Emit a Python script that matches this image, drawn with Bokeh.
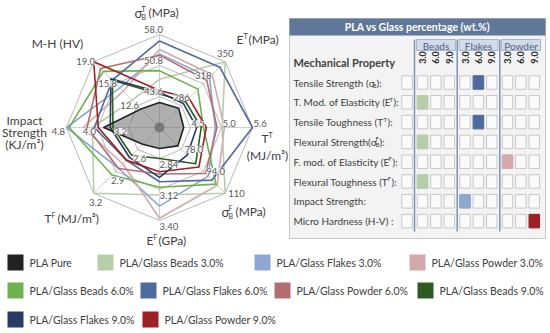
import math
from bokeh.plotting import figure
from bokeh.models import Range1d
from bokeh.core.properties import value
from bokeh.embed import file_html
from bokeh.resources import INLINE

# ---------------- data ----------------
series_names = ["PLA Pure", "PLA/Glass Beads 3.0%", "PLA/Glass Flakes 3.0%", "PLA/Glass Powder 3.0%",
                "PLA/Glass Beads 6.0%", "PLA/Glass Flakes 6.0%", "PLA/Glass Powder 6.0%",
                "PLA/Glass Beads 9.0%", "PLA/Glass Flakes 9.0%", "PLA/Glass Powder 9.0%"]
series_colors = ["#222222", "#b7cda8", "#8fa6d1", "#d4a9ab",
                 "#6db24c", "#4f6a9e", "#b36d70",
                 "#2f5b20", "#263c66", "#9c2024"]

# axis order: sigma_B^T, E^T, T^T, sigma_B^F, E^F, T^F, Impact, M-H
axis_min = [36.4, 254, 3.95, 62.0, 2.56, 2.3, 2.4, 9.4]
axis_max = [58.0, 350, 5.6, 110.0, 3.40, 3.2, 4.8, 19.0]
axis_ticks = [["43.6", "50.8", "58.0"], ["286", "318", "350"], ["4.5", "5.0", "5.6"],
              ["78.0", "94.0", "110"], ["2.84", "3.12", "3.40"], ["2.6", "2.9", "3.2"],
              ["3.2", "4.0", "4.8"], ["12.6", "15.8", "19.0"]]

pla_pure      = [42.2, 282, 4.38, 75.4, 2.75, 2.53, 3.84, 12.1]
beads_3       = [47.6, 350, 5.06, 110.0, 3.17, 3.20, 4.13, 13.4]
flakes_3      = [53.5, 327, 4.94, 97.5, 3.27, 2.86, 4.80, 15.2]
powder_3      = [54.5, 331, 5.10, 104.2, 3.38, 2.80, 4.37, 14.7]
beads_6       = [49.6, 310, 4.73, 103.3, 3.10, 2.95, 4.73, 17.6]
flakes_6      = [56.5, 342, 5.60, 100.4, 3.05, 2.75, 4.08, 16.3]
powder_6      = [53.2, 323, 4.97, 95.6, 2.98, 2.86, 4.27, 18.0]
beads_9       = [44.2, 292, 4.69, 88.4, 2.84, 2.68, 3.60, 16.3]
flakes_9      = [44.6, 289, 4.61, 82.2, 3.01, 2.71, 3.67, 16.5]
powder_9      = [45.0, 297, 4.78, 90.8, 2.96, 2.75, 3.98, 19.0]
series_values = [pla_pure, beads_3, flakes_3, powder_3, beads_6, flakes_6,
                 powder_6, beads_9, flakes_9, powder_9]

table_title = "PLA vs Glass percentage (wt.%)"
groups = ["Beads", "Flakes", "Powder"]
percents = ["3.0", "6.0", "9.0"]

FONT = "Lato"
TXT = "#404040"

p = figure(width=550, height=333, x_range=Range1d(0, 550), y_range=Range1d(333, 0),
           output_backend="svg", toolbar_location=None, min_border=0,
           x_axis_location=None, y_axis_location=None, outline_line_color=None,
           background_fill_color="white", border_fill_color="white")
p.grid.visible = False


def txt(xs, ys, ts, size=10, color=TXT, align="left", baseline="middle",
        style="normal", angle=0, bg=None):
    kw = {}
    if bg:
        kw = dict(background_fill_color=bg, background_fill_alpha=0.8)
    p.text(x=xs, y=ys, text=ts, text_font=value(FONT), text_font_size=f"{size}px",
           text_color=color, text_align=align, text_baseline=baseline,
           text_font_style=style, angle=angle, **kw)


# ---------------- radar ----------------
cx, cy, R = 159, 127, 93
angles = [math.pi / 2 - k * math.pi / 4 for k in range(8)]


def pt(k, frac):
    return cx + frac * R * math.cos(angles[k]), cy - frac * R * math.sin(angles[k])


ox = [pt(k, 1)[0] for k in range(8)]
oy = [pt(k, 1)[1] for k in range(8)]
p.segment(x0=[cx] * 8, y0=[cy] * 8, x1=ox, y1=oy, line_color="#cfcfcf", line_width=1)
for j in range(1, 4):
    xs = [pt(k, j / 3)[0] for k in range(8)] + [pt(0, j / 3)[0]]
    ys = [pt(k, j / 3)[1] for k in range(8)] + [pt(0, j / 3)[1]]
    p.line(xs, ys, line_color="#b8b8b8", line_width=1)


def series_xy(vals):
    xs, ys = [], []
    for k in range(8):
        f = (vals[k] - axis_min[k]) / (axis_max[k] - axis_min[k])
        x, y = pt(k, f)
        xs.append(x)
        ys.append(y)
    return xs + [xs[0]], ys + [ys[0]]


px, py = series_xy(pla_pure)
p.patch(px, py, fill_color="#6e6e6e", fill_alpha=0.55, line_color=None)
p.scatter([cx], [cy], size=10, fill_color="#777777", line_color=None)

for s in list(range(1, 10)) + [0]:
    xs, ys = series_xy(series_values[s])
    p.line(xs, ys, line_color=series_colors[s], line_width=1.6, line_join="round")

offs = [(-6, -5, "center"), (0, -8, "center"), (1, -4, "left"), (3, 0, "left"),
        (0, 6, "left"), (2, 9, "center"), (-8, 4, "center"), (-8, 0, "center")]
for k in range(8):
    dx, dy, al = offs[k]
    xs, ys = [], []
    for j in range(3):
        x, y = pt(k, (j + 1) / 3)
        xs.append(x + dx)
        ys.append(y + dy)
    txt(xs, ys, axis_ticks[k], size=9.5, color="#595959", align=al, bg="white")

T = 12
S = 7
txt([134], [12], ["σ"], size=13)
txt([141], [8], ["T"], size=S)
txt([141], [16], ["B"], size=S)
txt([148], [12], ["(MPa)"], size=T)
txt([57], [43], ["M-H (HV)"], size=T, align="center")
txt([236], [39], ["E"], size=T)
txt([243], [35], ["T"], size=S)
txt([248], [39], ["(MPa)"], size=T)
txt([261], [138], ["T"], size=T)
txt([268], [134], ["T"], size=S)
txt([267], [155], ["(MJ/m³)"], size=T, align="center")
txt([221], [211], ["σ"], size=13)
txt([228], [207], ["F"], size=S)
txt([228], [215], ["B"], size=S)
txt([235], [211], ["(MPa)"], size=T)
txt([146], [240], ["E"], size=T)
txt([153], [236], ["F"], size=S)
txt([158], [240], ["(GPa)"], size=T)
txt([44], [218], ["T"], size=T)
txt([51], [214], ["F"], size=S)
txt([57], [218], ["(MJ/m³)"], size=T)
txt([24, 24, 24], [120, 132, 144], ["Impact", "Strength", "(KJ/m²)"], size=T, align="center")

# ---------------- table ----------------
p.quad(left=[289], right=[545], top=[18], bottom=[238], fill_color="#f3f3f3",
       line_color="#c8c8c8", line_width=1)
p.quad(left=[289], right=[545], top=[18], bottom=[35], fill_color="#5f7799", line_color=None)
txt([417], [26.5], [table_title], size=10.5, color="white", align="center", style="bold")

grp_left = [416, 458.5, 501]
p.quad(left=grp_left, right=[g + 39 for g in grp_left], top=[39] * 3, bottom=[50] * 3,
       fill_color="#d3dbe8", line_color="#a6b5cf", line_width=1)
txt([g + 19.5 for g in grp_left], [45] * 3, groups, size=10, color="#4c5f82", align="center")

col_x = []
for g in range(3):
    for j in range(3):
        col_x.append(grp_left[g] + 6 + j * 13.4)
txt(col_x, [57] * 9, percents * 3, size=9, color="#222222", align="center",
    style="bold", angle=math.pi / 2)
txt([293], [62], ["Mechanical Property"], size=11, style="bold")

row_y = [82 + 19.8 * i for i in range(8)]
lone_x = 406.5
cxs, cys = [], []
for y in row_y:
    for x in [lone_x] + col_x:
        cxs.append(x)
        cys.append(y)
p.rect(x=cxs, y=cys, width=10.5, height=13.5, fill_color="#fafafa",
       line_color="#c6c6c6", line_width=1)

hx, hy, hc = [], [], []
for k in range(8):
    vals = [series_values[s][k] for s in range(1, 10)]
    best = vals.index(max(vals)) + 1
    g = (best - 1) % 3
    j = (best - 1) // 3
    hx.append(col_x[g * 3 + j])
    hy.append(row_y[k])
    hc.append(series_colors[best])
p.rect(x=hx, y=hy, width=10.5, height=13.5, fill_color=hc, line_color=hc, line_width=1)

sep_x = [414, 456.7, 499.3]
p.segment(x0=sep_x, y0=[39] * 3, x1=sep_x, y1=[231] * 3, line_color="#7b91b8", line_width=1.5)

MS = 10
SS = 6
rows = [
    [("Tensile Strength (σ", 293, 0), ("B", 372, 3), ("):", 376, 0)],
    [("T. Mod. of Elasticity (E", 293, 0), ("T", 389, -3), ("):", 393, 0)],
    [("Tensile Toughness (T", 293, 0), ("T", 383, -3), ("):", 387, 0)],
    [("Flexural Strength(σ", 293, 0), ("F", 375, -3), ("B", 375, 3), (" ):", 379, 0)],
    [("F. mod. of Elasticity (E", 293, 0), ("F", 388, -3), ("):", 392, 0)],
    [("Flexural Toughness (T", 293, 0), ("F", 387, -3), ("):", 391, 0)],
    [("Impact Strength:", 293, 0)],
    [("Micro Hardness (H-V) :", 293, 0)],
]
for i, pieces in enumerate(rows):
    for t, x, dy in pieces:
        txt([x], [row_y[i] + dy], [t], size=MS if dy == 0 else SS)

# ---------------- legend ----------------
leg_pos = [(7, 262), (97, 262), (254, 262), (409, 262),
           (7, 290), (140, 290), (274, 290), (417, 290),
           (7, 319), (142, 319)]
sx = [leg_pos[i][0] + 8 for i in range(10)]
sy = [leg_pos[i][1] for i in range(10)]
p.rect(x=sx, y=sy, width=16, height=16, fill_color=series_colors, line_color=None)
txt([leg_pos[i][0] + 22 for i in range(10)], sy, series_names, size=10.5)

open("out.html", "w").write(file_html(p, INLINE))
